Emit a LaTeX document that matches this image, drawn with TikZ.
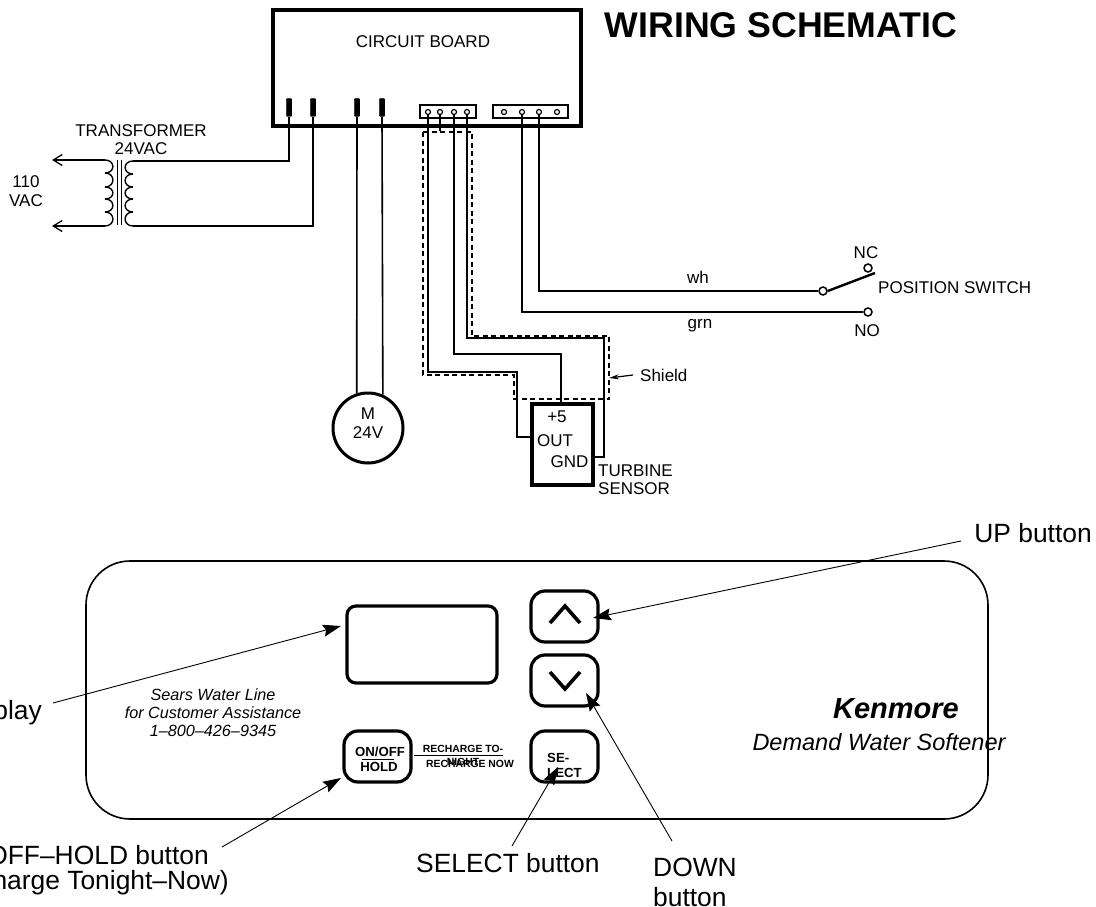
\documentclass[tikz,border=0pt]{standalone}
\usepackage{fontspec}
\setmainfont{Liberation Sans}
\usetikzlibrary{arrows.meta}
\tikzset{
  txt/.style={inner sep=0pt,align=center,font=\fontsize{17}{18.5}\selectfont},
  bigtxt/.style={inner sep=0pt,align=left,font=\fontsize{26.4}{30}\selectfont},
  tinybold/.style={inner sep=0pt,font=\fontsize{10.4}{12}\selectfont\bfseries},
  btnbold/.style={inner sep=0pt,font=\fontsize{13.2}{15}\selectfont\bfseries},
  wire/.style={line width=1.3pt},
  coil/.style={line width=1.4pt},
  shieldline/.style={line width=1.4pt,dash pattern=on 5pt off 3.5pt},
  ptr/.style={line width=.9pt,-{Stealth[length=18pt,width=12pt,inset=2.5pt]}},
  acwire/.style={line width=1.3pt,-{Straight Barb[length=9pt,width=11pt]}},
  pinbar/.style={draw,fill=black,minimum width=5.5pt,minimum height=18pt,inner sep=0pt,rounded corners=1pt},
  hole/.style={circle,draw,fill=white,line width=1.2pt,minimum size=5pt,inner sep=0pt},
  conn/.style={draw,line width=1.4pt,minimum height=13pt,inner sep=0pt},
  contact/.style={circle,draw,fill=white,line width=1.5pt,minimum size=8pt,inner sep=0pt},
  btn/.style={draw,line width=3.2pt,rounded corners=14pt,minimum width=67pt,minimum height=51pt,inner sep=0pt},
}
\begin{document}
\begin{tikzpicture}[x=1pt,y=-1pt]
\useasboundingbox (0,0) rectangle (1096,907);

\node [draw,line width=3.5pt,minimum width=308pt,minimum height=116pt,inner sep=0pt] (board) at (427,68) {};
\node [txt] (boardlbl) at (423,42) {CIRCUIT BOARD};
\node [inner sep=0pt,font=\fontsize{35.7}{38}\selectfont\bfseries] (title) at (781,25) {WIRING SCHEMATIC};

\foreach \i/\x in {1/289,2/313,3/357,4/382} \node [pinbar] (pin\i) at (\x,107.5) {};
\node [conn,minimum width=56pt] (conna) at (448,111.5) {};
\node [conn,minimum width=75pt] (connb) at (530.5,111.5) {};
\foreach \i/\x in {1/428,2/440,3/454,4/467} \node [hole] (a\i) at (\x,112) {};
\foreach \i/\x in {1/504,2/522,3/539,4/557} \node [hole] (b\i) at (\x,112) {};

\node [txt] (xfmrlbl) at (141,139.5) {TRANSFORMER\\24VAC};
\node [txt] (vaclbl) at (26,191) {110\\VAC};
\coordinate (acup) at (52,160);
\coordinate (acdown) at (52,226);
\coordinate (prtop) at (105,160);
\coordinate (prbot) at (105,226);
\coordinate (sectop) at (133,161);
\coordinate (secbot) at (133,226);
\draw [acwire] (prtop) -- (acup);
\draw [acwire] (prbot) -- (acdown);
\foreach \ya/\yb in {160/173,173/187,187/199,199/212,212/226} \draw [coil] (105,\ya) .. controls (115.5,\ya) and (115.5,\yb) .. (105,\yb);
\foreach \ya/\yb in {161/174,174/187,187/199,199/212,212/226} \draw [coil] (133,\ya) .. controls (122.5,\ya) and (122.5,\yb) .. (133,\yb);
\draw [line width=1.5pt] (117.5,160) -- (117.5,225);
\draw [line width=1.5pt] (121.5,160) -- (121.5,225);
\draw [wire] (pin1.south) |- (sectop);
\draw [wire] (pin2.south) |- (secbot);

\node [circle,draw,line width=3pt,minimum size=70pt,inner sep=0pt] (motor) at (368,428) {};
\node [txt] (motorlbl) at (368,423) {M\\24V};
\draw [line width=1.6pt] (pin3.south) -- (motor.108);
\draw [line width=1.6pt] (pin4.south) -- (motor.66);

\node [draw,line width=3.5pt,minimum width=61pt,minimum height=81pt,inner sep=0pt] (sensor) at (562.5,444.5) {};
\node [txt] (plusfive) at (557,417) {+5};
\node [txt] (outlbl) at (555,441) {OUT};
\node [txt] (gndlbl) at (569.5,462) {GND};
\node [txt,align=left,anchor=west] (turbine) at (598,479.5) {TURBINE\\SENSOR};
\coordinate (outend) at (532,437);
\coordinate (gndend) at (593,457);
\draw [wire] (a1.south) |- (517,372) |- (outend);
\draw [wire] (a3.south) |- (561,354) -- (sensor.north -| 561,0);
\draw [wire] (a4.south) |- (604,338) |- (gndend);
\draw [wire] (a2.south) -- (440,131);
\draw [shieldline] (423,132) -- (472,132) -- (472,336) -- (609,336) -- (609,399) -- (514,399) -- (514,375) -- (423,375) -- cycle;
\node [txt,anchor=west] (shieldlbl) at (640,375) {Shield};
\coordinate (shieldtip) at (609,378);
\draw [line width=1.2pt,-{Stealth[length=10pt,width=5pt]}] (shieldlbl.west) ++(-7,0) -- (shieldtip);

\node [contact] (cw) at (823,291) {};
\node [contact] (nc) at (868,268) {};
\node [contact] (no) at (868,312) {};
\coordinate (armend) at (875,273);
\draw [wire] (b3.south) |- (cw.west);
\draw [wire] (b2.south) |- (no.west);
\draw [line width=2.4pt] (cw.east) -- (armend);
\node [txt] (whlbl) at (698,277) {wh};
\node [txt] (grnlbl) at (700,326) {grn};
\node [txt] (nclbl) at (866,253) {NC};
\node [txt] (nolbl) at (867,331) {NO};
\node [txt,anchor=west] (poslbl) at (878,288) {POSITION SWITCH};

\node [draw,line width=1.6pt,rounded corners=44pt,minimum width=902pt,minimum height=258pt,inner sep=0pt] (panel) at (537,690) {};
\node [draw,line width=3.2pt,rounded corners=9pt,minimum width=150pt,minimum height=77pt,inner sep=0pt] (disp) at (422,644.5) {};
\node [btn] (upbtn) at (564.5,616.5) {};
\node [btn] (downbtn) at (564.5,680.5) {};
\node [btn] (onoff) at (377.5,756.5) {};
\node [btn] (selbtn) at (564.5,756.5) {};
\draw [line width=3.6pt] (550,623) -- (565,606) -- (580,623);
\draw [line width=3.6pt] (550,672) -- (565,689) -- (580,672);

\node [btnbold] (onofflbl) at (380,752) {ON/OFF};
\node [btnbold] (holdlbl) at (379,767) {HOLD};
\draw [line width=1.3pt] (362,759.5) -- (394,759.5);
\node [tinybold] (rechto) at (463,749) {RECHARGE TO-};
\draw [line width=1.1pt] (414,755.5) -- (503,755.5);
\node [tinybold] (nightlbl) at (463,762) {NIGHT};
\node [tinybold] (rechnow) at (470,764) {RECHARGE NOW};
\node [btnbold,anchor=west] (selone) at (547,758) {SE-};
\node [btnbold,anchor=west] (seltwo) at (547,773) {LECT};

\node [inner sep=0pt,align=center,font=\fontsize{16.2}{18}\selectfont\itshape] (searslbl) at (213,713) {Sears Water Line\\for Customer Assistance\\1–800–426–9345};
\node [inner sep=0pt,font=\fontsize{29}{31}\selectfont\bfseries\itshape] (kenmore) at (896,709) {Kenmore};
\node [inner sep=0pt,font=\fontsize{23.5}{25}\selectfont\itshape] (softener) at (879,742) {Demand Water Softener};

\node [bigtxt,anchor=east] (uplbl) at (1092,533) {UP button};
\node [bigtxt,anchor=east] (displbl) at (42,713) {Display};
\node [bigtxt,anchor=east] (onofftxt) at (209,855) {ON/OFF–HOLD button};
\node [bigtxt,anchor=east] (rechtxt) at (229,883) {(Recharge Tonight–Now)};
\node [bigtxt,anchor=west] (sellbl) at (416,863) {SELECT button};
\node [bigtxt,anchor=west] (downlbl) at (653,882) {DOWN\\button};

\coordinate (upfrom) at (961,541);
\coordinate (uptip) at (593,618);
\coordinate (dispfrom) at (53,703);
\coordinate (disptip) at (341,626);
\coordinate (onfrom) at (222,847);
\coordinate (ontip) at (341,778);
\coordinate (selfrom) at (512,846);
\coordinate (seltip) at (558,767);
\coordinate (downfrom) at (672,841);
\coordinate (downtip) at (586,693);
\draw [ptr] (upfrom) -- (uptip);
\draw [ptr] (dispfrom) -- (disptip);
\draw [ptr] (onfrom) -- (ontip);
\draw [ptr] (selfrom) -- (seltip);
\draw [ptr] (downfrom) -- (downtip);
\end{tikzpicture}
\end{document}
